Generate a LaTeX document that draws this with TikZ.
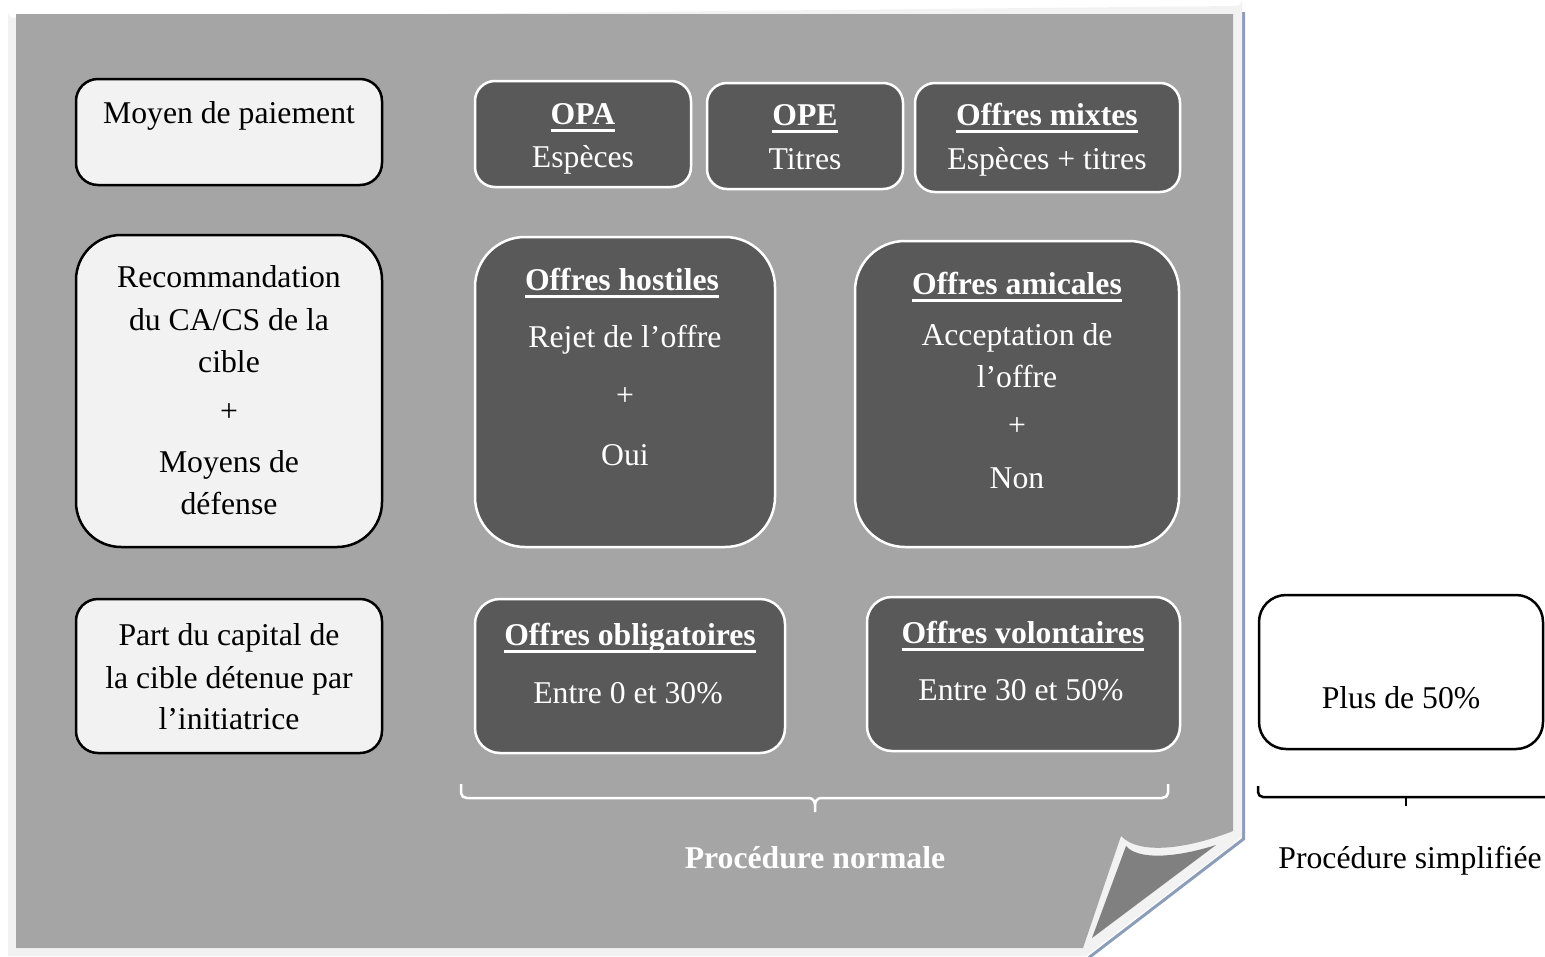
\documentclass[tikz,border=0pt]{standalone}
\usepackage{fontspec}
\setmainfont{Liberation Serif}
\definecolor{pagegray}{HTML}{A5A5A5}
\definecolor{darkbox}{HTML}{595959}
\definecolor{lightc}{HTML}{F2F2F2}
\definecolor{flapc}{HTML}{808080}
\definecolor{shadowc}{HTML}{8C9DB8}
\newcommand\ulbf[1]{\setbox0\hbox{\textbf{#1}}\rlap{\rule[-8pt]{\wd0}{2.8pt}}\box0}
\tikzset{
  lbox/.style={draw=black, line width=2.5pt, fill=lightc, inner sep=0pt},
  dbox/.style={draw=white, line width=2.5pt, fill=darkbox, inner sep=0pt},
  wbox/.style={draw=black, line width=2.5pt, fill=white, inner sep=0pt},
  txt/.style={font=\fontsize{31.7}{42}\selectfont, inner sep=0pt, anchor=base, text=black},
  wtxt/.style={txt, text=white},
  wbrace/.style={draw=white, line width=2.5pt},
  bbrace/.style={draw=black, line width=2.5pt}
}
\begin{document}
\begin{tikzpicture}[x=1pt,y=-1pt]
\useasboundingbox (0,0) rectangle (1545,956);
% page
\draw[shadowc, line width=3pt] (1243.5,12) -- (1243.5,839) -- (1089,957.5);
\fill[lightc] (8,12) arc[start angle=180,end angle=90,radius=6] -- (1236,6) arc[start angle=90,end angle=0,radius=6] -- (1242,837) -- (1086,956) -- (8,956) -- cycle;
\fill[pagegray] (16,14) -- (1233,14) -- (1233,831) .. controls (1190,848) and (1140,856) .. (1121,836) -- (1083,948) -- (16,948) -- cycle;
\fill[flapc] (1126,846) .. controls (1138,860) and (1175,858) .. (1216,845) -- (1092,938) -- cycle;

% left column
\node[lbox, rounded corners=22pt, minimum width=306pt, minimum height=106pt] (moyen) at (229,132) {};
\node[lbox, rounded corners=45pt, minimum width=306pt, minimum height=312pt] (recom) at (229,391) {};
\node[lbox, rounded corners=22pt, minimum width=306pt, minimum height=154pt] (part) at (229,676) {};

% top row
\node[dbox, rounded corners=20pt, minimum width=216pt, minimum height=106pt] (opa) at (583,134) {};
\node[dbox, rounded corners=20pt, minimum width=196pt, minimum height=106pt] (ope) at (805,136) {};
\node[dbox, rounded corners=20pt, minimum width=265pt, minimum height=109pt] (mixtes) at (1047.5,137.5) {};

% middle row
\node[dbox, rounded corners=50pt, minimum width=300pt, minimum height=310pt] (hostiles) at (625,392) {};
\node[dbox, rounded corners=50pt, minimum width=324pt, minimum height=306pt] (amicales) at (1017,394) {};

% bottom row
\node[dbox, rounded corners=25pt, minimum width=310pt, minimum height=154pt] (oblig) at (630,676) {};
\node[dbox, rounded corners=25pt, minimum width=313pt, minimum height=154pt] (volont) at (1023.5,674) {};
\node[wbox, rounded corners=27pt, minimum width=284pt, minimum height=154pt] (plus) at (1401,672) {};

% texts left
\node[txt] (t-moyen) at (229,123) {Moyen de paiement};
\node[txt] (t-rec1) at (229,287) {Recommandation};
\node[txt] (t-rec2) at (229,330) {du CA/CS de la};
\node[txt] (t-rec3) at (229,372) {cible};
\node[txt] (t-rec4) at (229,421) {+};
\node[txt] (t-rec5) at (229,472) {Moyens de};
\node[txt] (t-rec6) at (229,514) {défense};
\node[txt] (t-part1) at (229,645) {Part du capital de};
\node[txt] (t-part2) at (229,688) {la cible détenue par};
\node[txt] (t-part3) at (229,729) {l’initiatrice};

% texts top
\node[wtxt] (t-opa1) at (583,124) {\ulbf{OPA}};
\node[wtxt] (t-opa2) at (583,167) {Espèces};
\node[wtxt] (t-ope1) at (805,125) {\ulbf{OPE}};
\node[wtxt] (t-ope2) at (805,169) {Titres};
\node[wtxt] (t-mix1) at (1047,125) {\ulbf{Offres mixtes}};
\node[wtxt] (t-mix2) at (1047,169) {Espèces + titres};

% texts middle
\node[wtxt] (t-hos1) at (622,290) {\ulbf{Offres hostiles}};
\node[wtxt] (t-hos2) at (625,347) {Rejet de l’offre};
\node[wtxt] (t-hos3) at (625,405) {+};
\node[wtxt] (t-hos4) at (625,465) {Oui};
\node[wtxt] (t-ami1) at (1017,294) {\ulbf{Offres amicales}};
\node[wtxt] (t-ami2) at (1017,345) {Acceptation de};
\node[wtxt] (t-ami3) at (1017,387) {l’offre};
\node[wtxt] (t-ami4) at (1017,435) {+};
\node[wtxt] (t-ami5) at (1017,488) {Non};

% texts bottom
\node[wtxt] (t-obl1) at (630,645) {\ulbf{Offres obligatoires}};
\node[wtxt] (t-obl2) at (628,703) {Entre 0 et 30\%};
\node[wtxt] (t-vol1) at (1023,643) {\ulbf{Offres volontaires}};
\node[wtxt] (t-vol2) at (1021,700) {Entre 30 et 50\%};
\node[txt] (t-plus) at (1401,708) {Plus de 50\%};

% braces
\coordinate (nb-l) at (461,784);
\coordinate (nb-r) at (1168,784);
\coordinate (nb-m) at (815,812);
\draw[wbrace] (nb-l) -- (461,793) to[out=-90,in=180] (467,798) -- (809,798) to[out=0,in=90] (815,805) -- (nb-m);
\draw[wbrace] (nb-r) -- (1168,793) to[out=-90,in=0] (1162,798) -- (821,798) to[out=180,in=90] (815,805);
\coordinate (sb-l) at (1258,786);
\coordinate (sb-r) at (1545,797);
\coordinate (sb-m) at (1406,806);
\draw[bbrace] (sb-l) -- (1258,792) to[out=-90,in=180] (1263,797) -- (sb-r);
\draw[bbrace] (1406,797) -- (sb-m);

\node[wtxt, font=\fontsize{31.7}{42}\selectfont\bfseries] (normale) at (815,868) {Procédure normale};
\node[txt] (simpl) at (1410,868) {Procédure simplifiée};
\end{tikzpicture}
\end{document}
